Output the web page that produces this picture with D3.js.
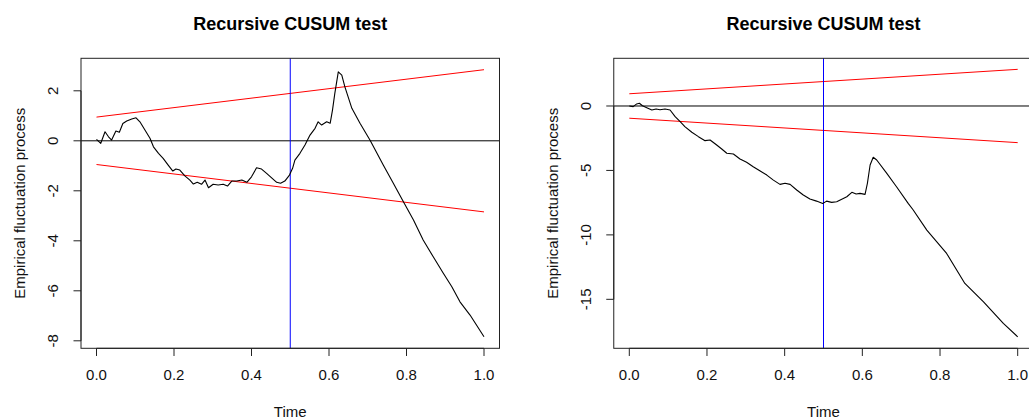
<!DOCTYPE html>
<html>
<head>
<meta charset="utf-8">
<script src="https://cdn.jsdelivr.net/npm/d3@7"></script>
<style>
  body { margin: 0; background: #fff; }
  svg { display: block; font-family: "Liberation Sans", Arial, sans-serif; }
</style>
</head>
<body>
<svg id="chart" width="1029" height="418"></svg>
<script>
// left panel: recursive CUSUM path
const leftTime = [0, .011, .022, .031, .039, .05, .059, .068, .078, .091, .102, .112, .125, .138, .147, .16, .172, .185, .197, .205,
  .215, .228, .241, .25, .26, .271, .28, .289, .301, .314, .327, .338, .349, .362, .375, .388, .4, .413, .426, .439,
  .452, .465, .475, .486, .498, .506, .512, .525, .538, .551, .564, .572, .581, .594, .603, .609, .615, .624, .633, .641,
  .659, .68, .706, .74, .766, .792, .818, .843, .869, .895, .917, .938, .964, 1];
const leftCusum = [.06, -.1, .36, .16, .03, .39, .34, .69, .79, .87, .92, .76, .43, .1, -.24, -.5, -.7, -.97, -1.21, -1.13,
  -1.17, -1.4, -1.57, -1.73, -1.66, -1.74, -1.57, -1.88, -1.74, -1.77, -1.74, -1.81, -1.61, -1.61, -1.57, -1.66, -1.44, -1.08, -1.13, -1.3,
  -1.48, -1.66, -1.7, -1.61, -1.37, -1.1, -.77, -.5, -.17, .23, .5, .76, .63, .76, .7, 1.23, 1.9, 2.76, 2.63, 2.16,
  1.3, .7, .02, -.97, -1.7, -2.44, -3.17, -3.97, -4.64, -5.3, -5.84, -6.44, -6.97, -7.84];

// right panel
const rightTime = [0, .01, .019, .026, .034, .045, .058, .069, .079, .092, .105, .118, .131, .143, .161, .178, .195, .208, .225, .238,
  .251, .268, .285, .302, .319, .337, .354, .371, .388, .401, .414, .431, .448, .465, .482, .498, .508, .521, .534, .547,
  .56, .573, .584, .594, .607, .613, .62, .628, .637, .663, .688, .718, .731, .766, .817, .864, .912, .963, 1];
const rightCusum = [0, -.05, .16, .21, .02, -.13, -.31, -.23, -.29, -.23, -.31, -.83, -1.22, -1.6, -2.04, -2.38, -2.69, -2.64, -3.03, -3.34,
  -3.67, -3.73, -4.11, -4.37, -4.71, -5.05, -5.36, -5.75, -6.08, -6, -6.08, -6.52, -6.91, -7.22, -7.38, -7.56, -7.38, -7.48, -7.43, -7.24,
  -7.04, -6.7, -6.83, -6.78, -6.86, -6, -4.58, -3.98, -4.19, -5.23, -6.27, -7.56, -8.07, -9.63, -11.44, -13.77, -15.19, -16.87, -17.91];

const xTicks = [0, 0.2, 0.4, 0.6, 0.8, 1.0];
const leftYTicks = [2, 0, -2, -4, -6, -8];
const rightYTicks = [0, -5, -10, -15];
const boundaryTime = [0, 1];
const boundaryLevel = [0.948, 2.844]; // 0.948 * (1 + 2t)
const breakTime = 0.5;

const svg = d3.select("#chart");
svg.append("rect").attr("width", 1029).attr("height", 418).attr("fill", "#fff");

function drawPanel(opts) {
  const { x0, x1, yDomain, time, values, yTicks } = opts;
  const top = 58.3, bottom = 348.3;
  const x = d3.scaleLinear().domain([0, 1]).range([x0, x1]);
  const y = d3.scaleLinear().domain(yDomain).range([bottom, top]);
  const left = x(-0.04), right = x(1.04);
  const g = svg.append("g");

  // title
  g.append("text")
    .attr("x", (left + right) / 2)
    .attr("y", 30)
    .attr("text-anchor", "middle")
    .attr("font-size", "18px")
    .attr("font-weight", "bold")
    .text("Recursive CUSUM test");

  // boundaries
  const bLine = d3.line().x(d => x(d[0])).y(d => y(d[1]));
  const upper = boundaryTime.map((t, i) => [t, boundaryLevel[i]]);
  const lower = boundaryTime.map((t, i) => [t, -boundaryLevel[i]]);
  [upper, lower].forEach(b => {
    g.append("path").attr("d", bLine(b))
      .attr("fill", "none").attr("stroke", "#ff0000").attr("stroke-width", 1);
  });

  // zero line
  g.append("line")
    .attr("x1", left).attr("x2", right)
    .attr("y1", y(0)).attr("y2", y(0))
    .attr("stroke", "#000").attr("stroke-width", 1);

  // break line
  g.append("line")
    .attr("x1", x(breakTime)).attr("x2", x(breakTime))
    .attr("y1", top).attr("y2", bottom)
    .attr("stroke", "#0000ff").attr("stroke-width", 1);

  // process
  const pts = time.map((t, i) => [t, values[i]]);
  g.append("path").attr("d", bLine(pts))
    .attr("fill", "none").attr("stroke", "#000").attr("stroke-width", 1.1)
    .attr("stroke-linejoin", "round");

  // box
  g.append("rect")
    .attr("x", left).attr("y", top)
    .attr("width", right - left).attr("height", bottom - top)
    .attr("fill", "none").attr("stroke", "#222").attr("stroke-width", 1);

  // x axis
  const xAxis = g.append("g").attr("transform", `translate(0,${bottom})`);
  xAxis.append("line").attr("x1", x(0)).attr("x2", x(1)).attr("stroke", "#222");
  xTicks.forEach(t => {
    xAxis.append("line").attr("x1", x(t)).attr("x2", x(t)).attr("y1", 0).attr("y2", 7.7).attr("stroke", "#222");
    xAxis.append("text").attr("x", x(t)).attr("y", 32)
      .attr("text-anchor", "middle").attr("font-size", "15px").attr("fill", "#111")
      .text(t.toFixed(1));
  });
  g.append("text")
    .attr("x", (left + right) / 2).attr("y", 416.5)
    .attr("text-anchor", "middle").attr("font-size", "15px").attr("fill", "#111")
    .text("Time");

  // y axis
  const yAxis = g.append("g").attr("transform", `translate(${left},0)`);
  yAxis.append("line").attr("y1", y(d3.max(yTicks))).attr("y2", y(d3.min(yTicks))).attr("stroke", "#222");
  yTicks.forEach(v => {
    yAxis.append("line").attr("x1", 0).attr("x2", -7.5).attr("y1", y(v)).attr("y2", y(v)).attr("stroke", "#222");
    yAxis.append("text")
      .attr("transform", `translate(-23,${y(v)}) rotate(-90)`)
      .attr("text-anchor", "middle").attr("font-size", "15px").attr("fill", "#111")
      .text(String(v).replace("-", "-"));
  });
  g.append("text")
    .attr("transform", `translate(${left - 56},${(top + bottom) / 2}) rotate(-90)`)
    .attr("text-anchor", "middle").attr("font-size", "15px").attr("fill", "#111")
    .text("Empirical fluctuation process");
}

drawPanel({ x0: 96.5, x1: 484, yDomain: [-8.3, 3.3], time: leftTime, values: leftCusum, yTicks: leftYTicks });
drawPanel({ x0: 629.3, x1: 1017.7, yDomain: [-18.8, 3.7], time: rightTime, values: rightCusum, yTicks: rightYTicks });
</script>
</body>
</html>
